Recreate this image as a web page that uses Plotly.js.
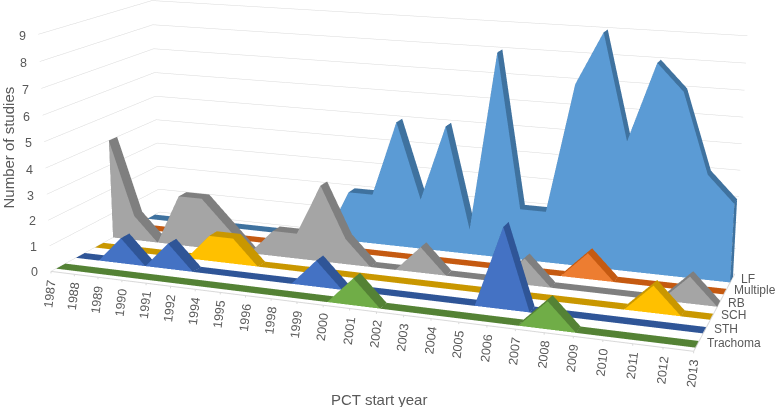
<!DOCTYPE html>
<html><head><meta charset="utf-8">
<script src="https://cdn.plot.ly/plotly-3.0.1.min.js"></script>
<style>html,body{margin:0;padding:0;background:#fff;overflow:hidden}#w{position:relative;width:776px;height:407px;overflow:hidden}#c{position:absolute}</style>
</head><body><div id="w"><div id="c"></div></div>
<script>
const years=[1987,1988,1989,1990,1991,1992,1994,1995,1996,1998,1999,2000,2001,2002,2003,2004,2005,2006,2007,2008,2009,2010,2011,2012,2013];
const seriesNames=['Trachoma','STH','SCH','RB','Multiple','LF'];
const Trachoma=[0,0,0,0,0,0,0,0,0,0,0,0,1,0,0,0,0,0,0,1,0,0,0,0,0];
const STH=[0,0,1,0,1,0,0,0,0,0,1,0,0,0,0,0,0,3,0,0,0,0,0,0,0];
const SCH=[0,0,0,0,0,1,1,0,0,0,0,0,0,0,0,0,0,0,0,0,0,0,1,0,0];
const RB=[4,1,0,2,2,1,0,1,1,3,1,0,0,1,0,0,0,1,0,0,0,0,0,1,0];
const Multiple=[0,0,0,0,0,0,0,0,0,0,0,0,0,0,0,0,0,0,0,1,0,0,0,0,0];
const LF=[0,0,0,0,0,0,0,0,0,2,2,5,2,5,1,8,2,2,7,9,5,8,7,4,3];
const seriesValues=[Trachoma,STH,SCH,RB,Multiple,LF];
const frontColors=['#70AD47','#4472C4','#FFC000','#A5A5A5','#ED7D31','#5B9BD5'];
const sideColors=['#548235','#2F5597','#C99700','#7F7F7F','#C55A11','#3F729F'];
const zTicks=[0,1,2,3,4,5,6,7,8,9];

const W=786,H=1358,offX=-1,offY=-523;
const cEl=document.getElementById('c');cEl.style.left=offX+'px';cEl.style.top=offY+'px';cEl.style.width=W+'px';cEl.style.height=H+'px';
const px=(x,y)=>({x:(x-offX)/W,y:1-(y-offY)/H});
const rowFront=0.25,rowBack=0.71;
const traces=seriesValues.map((vals,si)=>{
 const X=[],Y=[],Z=[],I=[],J=[],K=[],C=[];
 const yf=si+rowFront,yb=si+rowBack;
 function quad(a,b,c,d,col){const n=X.length;[a,b,c,d].forEach(v=>{X.push(v[0]);Y.push(v[1]);Z.push(v[2])});I.push(n,n);J.push(n+1,n+2);K.push(n+2,n+3);C.push(col,col);}
 for(let i=0;i<vals.length-1;i++){
  quad([i,yf,0],[i+1,yf,0],[i+1,yf,vals[i+1]],[i,yf,vals[i]],frontColors[si]);
  quad([i,yf,vals[i]],[i+1,yf,vals[i+1]],[i+1,yb,vals[i+1]],[i,yb,vals[i]],sideColors[si]);
 }
 const e=vals.length-1;
 quad([e,yf,0],[e,yb,0],[e,yb,vals[e]],[e,yf,vals[e]],sideColors[si]);
 return {type:'mesh3d',x:X,y:Y,z:Z,i:I,j:J,k:K,facecolor:C,flatshading:true,hoverinfo:'skip',showscale:false,
  lighting:{ambient:1,diffuse:0,specular:0,roughness:1,fresnel:0},lightposition:{x:0,y:0,z:1000}};
});
const last=years.length-1,rows=seriesNames.length;
traces.push({type:'scatter3d',mode:'lines',x:[0,last,last],y:[0,0,rows],z:[0,0,0],line:{color:'#D9D9D9',width:2},hoverinfo:'skip',showlegend:false});
const grey='#595959',tickGrey='#D9D9D9';
const ann=[];
years.forEach((y,i)=>{
 ann.push({x:i,y:0,z:0,text:' ',showarrow:true,arrowhead:0,arrowwidth:1,arrowcolor:tickGrey,ax:0,ay:4,font:{size:1}});
 ann.push({x:i,y:0,z:0,text:String(y),textangle:-83,showarrow:false,yshift:-22,xshift:-0.5,font:{family:'Liberation Sans',size:12.5,color:grey}});
});
zTicks.forEach(z=>ann.push({x:0,y:0,z:z,text:String(z),showarrow:false,xshift:-16,yshift:-1-z*0.1,font:{family:'Liberation Sans',size:12.5,color:grey}}));
seriesNames.forEach((n,i)=>ann.push({x:last,y:i+.5,z:0,text:n,showarrow:false,xanchor:'left',xshift:7,yshift:1,font:{family:'Liberation Sans',size:12,color:grey}}));
const hidden={showgrid:false,zeroline:false,showticklabels:false,showspikes:false,showbackground:false,showline:false,ticks:'',title:{text:''}};
const a1=px(7.5,148),a2=px(379,399);
const layout={width:W,height:H,margin:{l:0,r:0,t:0,b:0,pad:0},paper_bgcolor:'#fff',showlegend:false,
 scene:{domain:{x:[0,1],y:[0,1]},bgcolor:'#fff',dragmode:false,
  aspectmode:'manual',aspectratio:{x:2.678,y:0.952,z:1},
  camera:{eye:{x:2.247,y:-6.089,z:1.631},center:{x:0,y:0,z:0},up:{x:0,y:0,z:1},projection:{type:'perspective'}},
  xaxis:Object.assign({},hidden,{range:[0,last]}),
  yaxis:Object.assign({},hidden,{range:[0,rows]}),
  zaxis:{range:[0,9],tickvals:zTicks,showgrid:true,gridcolor:'#D9D9D9',gridwidth:1,zeroline:false,showticklabels:false,showspikes:false,showbackground:false,showline:false,ticks:'',title:{text:''}},
  annotations:ann},
 annotations:[
  {xref:'paper',yref:'paper',x:a1.x,y:a1.y,xanchor:'center',yanchor:'middle',text:'Number of studies',textangle:-90,showarrow:false,font:{family:'Liberation Sans',size:15,color:grey}},
  {xref:'paper',yref:'paper',x:a2.x,y:a2.y,xanchor:'center',yanchor:'middle',text:'PCT start year',showarrow:false,font:{family:'Liberation Sans',size:15,color:grey}}
 ]};
Plotly.newPlot('c',traces,layout,{displayModeBar:false});
</script></body></html>
